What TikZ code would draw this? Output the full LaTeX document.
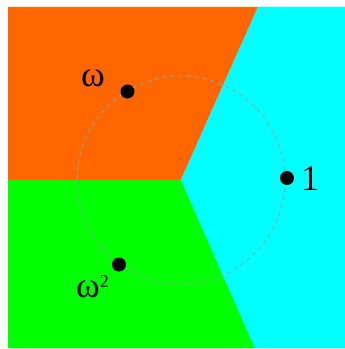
\documentclass[tikz,border=0pt]{standalone}
\usepackage{fontspec}
\setmainfont{Liberation Serif}
\definecolor{regorange}{RGB}{255,102,0}
\definecolor{reggreen}{RGB}{0,255,0}
\definecolor{regcyan}{RGB}{0,255,255}
\definecolor{circgray}{RGB}{140,165,165}
\tikzset{
  region/.style={draw=none},
  rootdot/.style={circle,fill=black,inner sep=0pt,minimum size=14pt},
  rootlabel/.style={inner sep=0pt,font=\fontsize{36}{36}\selectfont},
  unitcircle/.style={draw=circgray,line width=0.9pt,dash pattern=on 4pt off 4pt}
}
\begin{document}
\begin{tikzpicture}[x=1pt,y=-1pt]
\useasboundingbox (0,0) rectangle (345,349);
\coordinate (O) at (181,180);
\fill[regorange,region] (8,7) -- (258,7) -- (O) -- (8,180) -- cycle;
\fill[reggreen,region] (8,180) -- (O) -- (255,348) -- (8,348) -- cycle;
\fill[regcyan,region] (258,7) -- (345,7) -- (345,348) -- (255,348) -- (O) -- cycle;
\draw[unitcircle] (O) circle[radius=104];
\node[rootdot] (w) at (127.5,91.5) {};
\node[rootdot] (one) at (287,178) {};
\node[rootdot] (w2) at (119,264.5) {};
\node[rootlabel] (lw) at (93,78) {ω};
\node[rootlabel] (lone) at (310,179) {1};
\node[rootlabel,anchor=base west] (lw2) at (76,297) {ω\raisebox{10pt}{\fontsize{18}{18}\selectfont 2}};
\end{tikzpicture}
\end{document}
